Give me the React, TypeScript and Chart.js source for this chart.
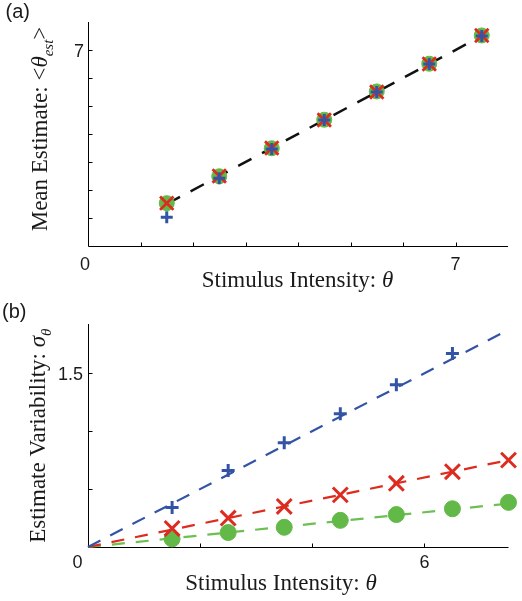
import React, { useEffect, useRef } from "react";
import { Chart, registerables } from "chart.js";

Chart.register(...registerables);

// ---------- Panel (a): mean estimate ----------
const thetaA = [1.5, 2.5, 3.5, 4.5, 5.5, 6.5, 7.5];
const meanGreen = [1.53, 2.49, 3.49, 4.51, 5.52, 6.51, 7.52];
const meanRed = [1.53, 2.5, 3.5, 4.5, 5.5, 6.5, 7.52];
const meanBlue = [1.03, 2.42, 3.46, 4.5, 5.5, 6.5, 7.5];
const identityX = [1.5, 7.5];
const identityY = [1.5, 7.5];
const xTicksA = [1, 2, 3, 4, 5, 6, 7];
const yTicksA = [1, 2, 3, 4, 5, 6, 7];
const xTickLabelsA = ["0", "7"];
const yTickLabelsA = ["7"];

// ---------- Panel (b): estimate variability ----------
const thetaB = [1.5, 2.5, 3.5, 4.5, 5.5, 6.5, 7.5];
const sdBlue = [0.34, 0.66, 0.9, 1.15, 1.4, 1.67];
const sdRed = [0.16, 0.25, 0.35, 0.45, 0.55, 0.65, 0.75];
const sdGreen = [0.07, 0.125, 0.17, 0.23, 0.28, 0.33, 0.385];
const fitX = [0, 7.5];
const fitBlue = [0, 1.875];
const fitRed = [0, 0.75];
const fitGreen = [0, 0.375];
const xTicksB = [2, 4, 6];
const yTicksB = [0.5, 1, 1.5];
const xTickLabelsB = ["0", "6"];
const yTickLabelsB = ["1.5"];

const GREEN = "#62b947";
const GREEN_LINE = "#6cbf50";
const RED = "#de2b1f";
const BLUE = "#3354a5";

const SERIF = "'Liberation Serif', 'Times New Roman', serif";
const SANS = "'Liberation Sans', Arial, sans-serif";

type Seg = { text: string; font: string; dy?: number };

function drawRich(ctx: CanvasRenderingContext2D, segs: Seg[], cx: number, cy: number, rotate: boolean) {
  ctx.save();
  ctx.translate(cx, cy);
  if (rotate) ctx.rotate(-Math.PI / 2);
  ctx.textBaseline = "alphabetic";
  ctx.textAlign = "left";
  let total = 0;
  for (const s of segs) {
    ctx.font = s.font;
    total += ctx.measureText(s.text).width;
  }
  let pos = -total / 2;
  for (const s of segs) {
    ctx.font = s.font;
    ctx.fillText(s.text, pos, s.dy || 0);
    pos += ctx.measureText(s.text).width;
  }
  ctx.restore();
}

type LabelSpec = { value: number; text: string; dx: number; dy: number; align: CanvasTextAlign };

type AxesCfg = {
  xTicks: number[];
  yTicks: number[];
  xLabels: LabelSpec[];
  yLabels: LabelSpec[];
  xTitle: Seg[];
  xTitlePos: [number, number];
  yTitle: Seg[];
  yTitlePos: [number, number];
  panel: string;
  panelPos: [number, number];
};

function makeAxesPlugin(cfg: AxesCfg) {
  return {
    id: "customAxes",
    beforeDatasetsDraw(chart: any) {
      const { ctx, chartArea: a, scales } = chart;
      const x = scales.x;
      const y = scales.y;
      ctx.save();
      ctx.strokeStyle = "#000";
      ctx.lineWidth = 1;
      const left = Math.round(a.left) + 0.5;
      const bottom = Math.round(a.bottom) + 0.5;
      ctx.beginPath();
      ctx.moveTo(left, a.top);
      ctx.lineTo(left, bottom);
      ctx.lineTo(a.right, bottom);
      for (const v of cfg.xTicks) {
        const px = Math.round(x.getPixelForValue(v)) + 0.5;
        ctx.moveTo(px, bottom);
        ctx.lineTo(px, bottom - 4);
      }
      for (const v of cfg.yTicks) {
        const py = Math.round(y.getPixelForValue(v)) + 0.5;
        ctx.moveTo(left, py);
        ctx.lineTo(left + 4, py);
      }
      ctx.stroke();
      ctx.restore();
    },
    afterDraw(chart: any) {
      const { ctx, chartArea: a, scales } = chart;
      const x = scales.x;
      const y = scales.y;
      ctx.save();
      ctx.fillStyle = "#1a1a1a";
      ctx.font = "18px " + SANS;
      ctx.textBaseline = "alphabetic";
      for (const l of cfg.xLabels) {
        ctx.textAlign = l.align;
        ctx.fillText(l.text, x.getPixelForValue(l.value) + l.dx, a.bottom + l.dy);
      }
      for (const l of cfg.yLabels) {
        ctx.textAlign = l.align;
        ctx.fillText(l.text, a.left + l.dx, y.getPixelForValue(l.value) + l.dy);
      }
      ctx.font = "20px " + SANS;
      ctx.textAlign = "left";
      ctx.fillText(cfg.panel, cfg.panelPos[0], cfg.panelPos[1]);
      ctx.restore();
      ctx.save();
      ctx.fillStyle = "#1a1a1a";
      drawRich(ctx, cfg.xTitle, cfg.xTitlePos[0], cfg.xTitlePos[1], false);
      drawRich(ctx, cfg.yTitle, cfg.yTitlePos[0], cfg.yTitlePos[1], true);
      ctx.restore();
    },
  };
}

const pts = (xs: number[], ys: number[]) => ys.map((v, i) => ({ x: xs[i], y: v }));

function Panel(props: { height: number; config: any }) {
  const ref = useRef<HTMLCanvasElement>(null);
  useEffect(() => {
    const chart = new Chart(ref.current as HTMLCanvasElement, props.config);
    return () => chart.destroy();
  }, []);
  return (
    <div style={{ position: "relative", width: 522, height: props.height }}>
      <canvas ref={ref} />
    </div>
  );
}

const titleFont = "23px " + SERIF;
const titleItalic = "italic 23px " + SERIF;
const subItalic = "italic 15px " + SERIF;

function baseOptions(padding: any, xmax: number, ymax: number) {
  return {
    responsive: true,
    maintainAspectRatio: false,
    animation: false,
    layout: { padding },
    plugins: { legend: { display: false }, tooltip: { enabled: false } },
    scales: {
      x: { type: "linear", min: 0, max: xmax, display: false },
      y: { type: "linear", min: 0, max: ymax, display: false },
    },
  };
}

const configA = {
  type: "scatter",
  data: {
    datasets: [
      {
        data: pts(identityX, identityY),
        showLine: true,
        borderColor: "#111",
        borderWidth: 2.5,
        borderDash: [15, 12],
        pointRadius: 0,
        order: 5,
      },
      {
        data: pts(thetaA, meanGreen),
        pointStyle: "circle",
        pointRadius: 7.5,
        backgroundColor: GREEN,
        borderColor: GREEN,
        borderWidth: 1,
        order: 3,
      },
      {
        data: pts(thetaA, meanRed),
        pointStyle: "crossRot",
        pointRadius: 9.5,
        borderColor: RED,
        borderWidth: 2.8,
        order: 2,
      },
      {
        data: pts(thetaA, meanBlue),
        pointStyle: "cross",
        pointRadius: 6,
        borderColor: BLUE,
        borderWidth: 3,
        order: 1,
      },
    ],
  },
  options: { ...baseOptions({ left: 88, right: 14, top: 22, bottom: 54 }, 8, 8), clip: false },
  plugins: [
    makeAxesPlugin({
      xTicks: xTicksA,
      yTicks: yTicksA,
      xLabels: [
        { value: 0, text: xTickLabelsA[0], dx: -3, dy: 24, align: "center" },
        { value: 7, text: xTickLabelsA[1], dx: 0, dy: 24, align: "center" },
      ],
      yLabels: [{ value: 7, text: yTickLabelsA[0], dx: -9, dy: 7, align: "center" }],
      xTitle: [
        { text: "Stimulus Intensity: ", font: titleFont },
        { text: "θ", font: titleItalic },
      ],
      xTitlePos: [297.5, 286.5],
      yTitle: [
        { text: "Mean Estimate: <", font: titleFont },
        { text: "θ", font: titleItalic },
        { text: "est", font: subItalic, dy: 6 },
        { text: ">", font: titleFont },
      ],
      yTitlePos: [46.5, 129],
      panel: "(a)",
      panelPos: [5.5, 18],
    }),
  ],
};

const configB = {
  type: "scatter",
  data: {
    datasets: [
      {
        data: pts(fitX, fitBlue),
        showLine: true,
        borderColor: BLUE,
        borderWidth: 2.2,
        borderDash: [14, 11],
        pointRadius: 0,
        order: 7,
      },
      {
        data: pts(fitX, fitRed),
        showLine: true,
        borderColor: RED,
        borderWidth: 2.2,
        borderDash: [13, 11],
        pointRadius: 0,
        order: 8,
      },
      {
        data: pts(fitX, fitGreen),
        showLine: true,
        borderColor: GREEN_LINE,
        borderWidth: 2.2,
        borderDash: [13, 11],
        pointRadius: 0,
        order: 9,
      },
      {
        data: pts(thetaB, sdGreen),
        pointStyle: "circle",
        pointRadius: 8,
        backgroundColor: GREEN,
        borderColor: GREEN,
        borderWidth: 1,
        order: 3,
      },
      {
        data: pts(thetaB, sdRed),
        pointStyle: "crossRot",
        pointRadius: 10.5,
        borderColor: RED,
        borderWidth: 3,
        order: 2,
      },
      {
        data: pts(thetaB, sdBlue),
        pointStyle: "cross",
        pointRadius: 6.5,
        borderColor: BLUE,
        borderWidth: 3,
        order: 1,
      },
    ],
  },
  options: { ...baseOptions({ left: 88, right: 11, top: 24, bottom: 54 }, 7.5, 1.925), clip: false },
  plugins: [
    makeAxesPlugin({
      xTicks: xTicksB,
      yTicks: yTicksB,
      xLabels: [
        { value: 0, text: xTickLabelsB[0], dx: -10.5, dy: 21, align: "center" },
        { value: 6, text: xTickLabelsB[1], dx: 0, dy: 21, align: "center" },
      ],
      yLabels: [{ value: 1.5, text: yTickLabelsB[0], dx: -5, dy: 6.5, align: "right" }],
      xTitle: [
        { text: "Stimulus Intensity: ", font: titleFont },
        { text: "θ", font: titleItalic },
      ],
      xTitlePos: [281, 290],
      yTitle: [
        { text: "Estimate Variability: ", font: titleFont },
        { text: "σ", font: titleItalic },
        { text: "θ", font: subItalic, dy: 6 },
      ],
      yTitlePos: [45, 135.7],
      panel: "(b)",
      panelPos: [2, 18],
    }),
  ],
};

export default function App() {
  return (
    <div style={{ position: "absolute", left: 0, top: 0, width: 522, height: 601, background: "#fff" }}>
      <Panel height={300} config={configA} />
      <Panel height={301} config={configB} />
    </div>
  );
}
